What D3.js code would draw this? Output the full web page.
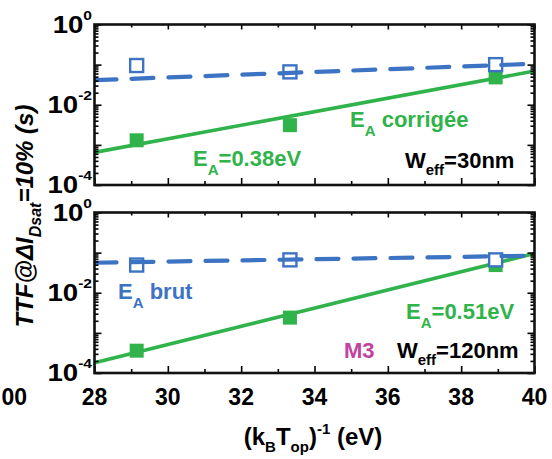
<!DOCTYPE html>
<html><head><meta charset="utf-8">
<script src="https://cdn.jsdelivr.net/npm/d3@7"></script>
<style>
html,body{margin:0;padding:0;background:#fff;}
svg{display:block;}
text{font-family:"Liberation Sans",Arial,Helvetica,sans-serif;font-weight:bold;}
</style></head>
<body>
<svg id="chart" width="552" height="459"></svg>
<script>
// ---------- data ----------
const tempX   = [29.15, 33.33, 38.94];          // (kB Top)^-1 in eV^-1
const topBrut = [0.095, 0.066, 0.100];           // Weff=30nm, EA brut (open squares)
const topCorr = [0.0013, 0.0031, 0.048];         // Weff=30nm, EA corrigée (filled)
const botBrut = [0.049, 0.066, 0.066];           // Weff=120nm, EA brut
const botCorr = [0.00036, 0.0024, 0.049];        // Weff=120nm, EA corrigée
const fitX       = [28, 40];
const topFitBrut = [0.041, 0.105];
const topFitCorr = [0.00065, 0.069];
const botFitBrut = [0.056, 0.084];
const botFitCorr = [0.00018, 0.095];
const xTickLabels = [28, 30, 32, 34, 36, 38, 40];
const yTickLabels = [1e0, 1e-2, 1e-4];

// ---------- style ----------
const BLUE = "#3d73c3", GREEN = "#2fb34a", MAGENTA = "#c2439e";
const svg = d3.select("#chart");
const x = d3.scaleLinear().domain([28, 40]).range([94.5, 534.5]);
const yTop = d3.scaleLog().domain([1e-4, 1]).range([185, 24.5]);
const yBot = d3.scaleLog().domain([1e-4, 1]).range([373, 212.5]);

const majorY = [1e-4, 1e-3, 1e-2, 1e-1, 1];
const minorY = [];
for (let d = -4; d < 0; d++) for (let m = 2; m <= 9; m++) minorY.push(m * Math.pow(10, d));
const majorX = d3.range(28, 41, 2);
const minorX = d3.range(29, 40, 2);

function rich(g, parts, opts) {
  const t = g.append("text")
    .attr("x", opts.x).attr("y", opts.y)
    .attr("font-size", opts.size)
    .attr("fill", opts.fill || "#000")
    .attr("text-anchor", opts.anchor || "start");
  if (opts.italic) t.attr("font-style", "italic");
  let shift = 0;
  parts.forEach(p => {
    const s = t.append("tspan").text(p.t);
    let target = 0, fs = opts.size;
    if (p.sub) { target = p.dy != null ? p.dy : opts.size * 0.42; fs = p.fs || opts.size * 0.68; }
    if (p.sup) { target = p.dy != null ? p.dy : -opts.size * 0.55; fs = p.fs || opts.size * 0.62; }
    s.attr("font-size", fs).attr("dy", target - shift);
    shift = target;
  });
  return t;
}

function panel(y, brut, corr, fitBrut, fitCorr) {
  const g = svg.append("g");
  const [y0, y1] = y.range();
  const clipId = "clip" + Math.round(y0);
  svg.append("clipPath").attr("id", clipId).append("rect")
    .attr("x", x(28)).attr("y", y1).attr("width", x(40) - x(28)).attr("height", y0 - y1);

  const line = d3.line().x((d, i) => x(fitX[i])).y(d => y(d));
  const plot = g.append("g").attr("clip-path", `url(#${clipId})`);
  // corrected fit (green solid)
  plot.append("path").datum(fitCorr).attr("d", line)
    .attr("fill", "none").attr("stroke", GREEN).attr("stroke-width", 3.6);
  // filled squares
  plot.selectAll("rect.corr").data(corr).join("rect").attr("class", "corr")
    .attr("x", (d, i) => x(tempX[i]) - 7).attr("y", d => y(d) - 7)
    .attr("width", 14).attr("height", 14).attr("fill", GREEN);
  // open squares
  plot.selectAll("rect.brut").data(brut).join("rect").attr("class", "brut")
    .attr("x", (d, i) => x(tempX[i]) - 6.5).attr("y", d => y(d) - 6.5)
    .attr("width", 13).attr("height", 13).attr("fill", "#fff")
    .attr("stroke", BLUE).attr("stroke-width", 2.4);
  // raw fit (blue dashed)
  plot.append("path").datum(fitBrut).attr("d", line)
    .attr("fill", "none").attr("stroke", BLUE).attr("stroke-width", 4.2)
    .attr("stroke-dasharray", "22,15").attr("stroke-linecap", "round");

  // axes ticks (inward)
  const ax = (axis, tx, ty) => {
    const a = g.append("g").attr("transform", `translate(${tx},${ty})`).call(axis);
    a.select(".domain").remove();
    a.selectAll("text").remove();
    a.selectAll("line").attr("stroke", "#000").attr("stroke-width", 1.6);
  };
  ax(d3.axisLeft(y).tickValues(majorY).tickSize(-7).tickFormat(""), x(28), 0);
  ax(d3.axisLeft(y).tickValues(minorY).tickSize(-4).tickFormat(""), x(28), 0);
  ax(d3.axisRight(y).tickValues(majorY).tickSize(-7).tickFormat(""), x(40), 0);
  ax(d3.axisRight(y).tickValues(minorY).tickSize(-4).tickFormat(""), x(40), 0);
  ax(d3.axisBottom(x).tickValues(majorX).tickSize(-7).tickFormat(""), 0, y0);
  ax(d3.axisBottom(x).tickValues(minorX).tickSize(-4).tickFormat(""), 0, y0);
  ax(d3.axisTop(x).tickValues(majorX).tickSize(-5).tickFormat(""), 0, y1);
  ax(d3.axisTop(x).tickValues(minorX).tickSize(-3).tickFormat(""), 0, y1);

  // frame
  g.append("rect").attr("x", x(28)).attr("y", y1)
    .attr("width", x(40) - x(28)).attr("height", y0 - y1)
    .attr("fill", "none").attr("stroke", "#111").attr("stroke-width", 2.6);

  // y tick labels (slightly wide lettering as in the reference)
  yTickLabels.forEach(v => {
    const e = Math.round(Math.log10(v));
    const lg = g.append("g").attr("transform", `translate(92,${y(v) + 8}) scale(1.2,1)`);
    rich(lg, [{t: "10"}, {t: String(e), sup: true, dy: -13, fs: 13}],
      {x: 0, y: 0, size: 23, anchor: "end"});
  });
  return g;
}

const gTop = panel(yTop, topBrut, topCorr, topFitBrut, topFitCorr);
const gBot = panel(yBot, botBrut, botCorr, botFitBrut, botFitCorr);

// x tick labels (bottom panel only)
svg.append("g").selectAll("text").data(xTickLabels).join("text")
  .attr("x", d => x(d)).attr("y", 405).attr("text-anchor", "middle")
  .attr("font-size", 23).text(d => d);
// visible remnant of a neighbouring panel's tick label
svg.append("text").attr("x", 27).attr("y", 405).attr("text-anchor", "end")
  .attr("font-size", 23).text("00");

// axis titles
rich(svg, [{t: "(k"}, {t: "B", sub: true, dy: 7, fs: 15}, {t: "T"}, {t: "op", sub: true, dy: 7, fs: 15},
           {t: ")"}, {t: "-1", sup: true, dy: -11, fs: 15}, {t: " (eV)"}],
     {x: 313, y: 445, size: 24, anchor: "middle"});

const yt = svg.append("g").attr("transform", "translate(33,216) rotate(-90)");
rich(yt, [{t: "TTF@\u0394I"}, {t: "Dsat", sub: true, dy: 8, fs: 16}, {t: "=10% (s)"}],
     {x: 0, y: 0, size: 24, anchor: "middle", italic: true});

// annotations
rich(svg, [{t: "E"}, {t: "A", sub: true, dy: 9, fs: 15}, {t: " corrigée"}], {x: 350, y: 127, size: 22, fill: GREEN});
rich(svg, [{t: "E"}, {t: "A", sub: true, dy: 9, fs: 15}, {t: "=0.38eV"}], {x: 193, y: 166, size: 22, fill: GREEN});
rich(svg, [{t: "W"}, {t: "eff", sub: true, dy: 7, fs: 15}, {t: "=30nm"}], {x: 405, y: 168, size: 22, fill: "#000"});
rich(svg, [{t: "E"}, {t: "A", sub: true, dy: 9, fs: 15}, {t: " brut"}], {x: 118, y: 299, size: 22, fill: BLUE});
rich(svg, [{t: "E"}, {t: "A", sub: true, dy: 9, fs: 15}, {t: "=0.51eV"}], {x: 406, y: 319, size: 22, fill: GREEN});
svg.append("text").attr("x", 344).attr("y", 358).attr("font-size", 22).attr("fill", MAGENTA).text("M3");
rich(svg, [{t: "W"}, {t: "eff", sub: true, dy: 7, fs: 15}, {t: "=120nm"}], {x: 397, y: 358, size: 22, fill: "#000"});
</script>
</body></html>
